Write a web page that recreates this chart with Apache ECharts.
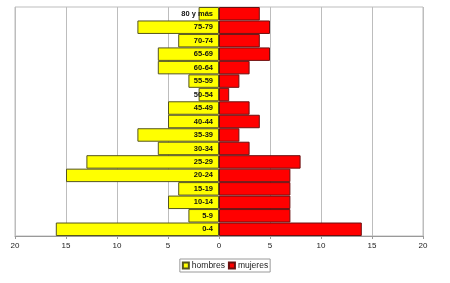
<!DOCTYPE html>
<html lang="es">
<head>
    <meta charset="UTF-8">
    <title>Pirámide de población</title>
    <style>
        html,body{padding:0;margin:0;background:#fff;}
        #chart{width:450px;height:283px;}
    </style>
    <script src="https://cdn.jsdelivr.net/npm/echarts@6/dist/echarts.min.js"></script>
</head>
<body>
<div id="chart"></div>
<script>
    // grupos de edad, de abajo hacia arriba
    var edades = ['0-4','5-9','10-14','15-19','20-24','25-29','30-34','35-39','40-44',
        '45-49','50-54','55-59','60-64','65-69','70-74','75-79','80 y más'];
    var hombres = [16,3,5,4,15,13,6,8,5,5,2,3,6,6,4,8,2];
    var mujeres = [14,7,7,7,7,8,3,2,4,3,1,2,3,5,4,5,4];
    var ejeTicks = [-20,-15,-10,-5,0,5,10,15,20];

    var myChart = echarts.init(document.getElementById('chart'));

    // ancho del grid: 450 - 15 - 27 = 408, el 0 cae en la mitad
    var mitad = (450 - 15 - 27) / 2;

    var option = {
        animation: false,
        textStyle: {fontFamily: 'Liberation Sans, Arial, sans-serif'},
        grid: {
            left: 15, right: 27, top: 7, bottom: 47,
            outerBoundsMode: 'none',
            containLabel: false,
            show: true, borderColor: '#bdbdbd', borderWidth: 1
        },
        legend: {
            bottom: 11, left: 'center',
            data: ['hombres','mujeres'],
            icon: 'rect',
            itemWidth: 6, itemHeight: 6, itemGap: 3,
            borderColor: '#9a9a9a', borderWidth: 1, padding: [2,2,2,2],
            textStyle: {fontSize: 8.5, color: '#222', padding: [0,0,0,-2]}
        },
        xAxis: {
            type: 'value',
            min: ejeTicks[0], max: ejeTicks[ejeTicks.length-1], interval: 5,
            axisLine: {show: true, lineStyle: {color: '#9a9a9a'}},
            axisTick: {show: true, length: 3, lineStyle: {color: '#9a9a9a'}},
            axisLabel: {
                fontSize: 8, color: '#222', margin: 6,
                formatter: function(v){ return Math.abs(v); }
            },
            splitLine: {show: true, lineStyle: {color: '#bdbdbd'}}
        },
        yAxis: {
            type: 'category',
            data: edades,
            z: 10,
            position: 'left',
            offset: -mitad,
            axisLine: {show: false, onZero: false},
            axisTick: {show: false},
            axisLabel: {fontSize: 7.5, fontWeight: 'bold', color: '#111', margin: 6}
        },
        series: [
            {
                name: 'hombres',
                type: 'bar',
                data: hombres.map(function(v){ return -v; }),
                barGap: '-100%',
                barCategoryGap: 0,
                itemStyle: {color: '#ffff00', borderColor: '#55551f', borderWidth: 1}
            },
            {
                name: 'mujeres',
                type: 'bar',
                data: mujeres,
                barGap: '-100%',
                barCategoryGap: 0,
                itemStyle: {color: '#ff0000', borderColor: '#6a1010', borderWidth: 1}
            }
        ]
    };
    myChart.setOption(option);
</script>
</body>
</html>
